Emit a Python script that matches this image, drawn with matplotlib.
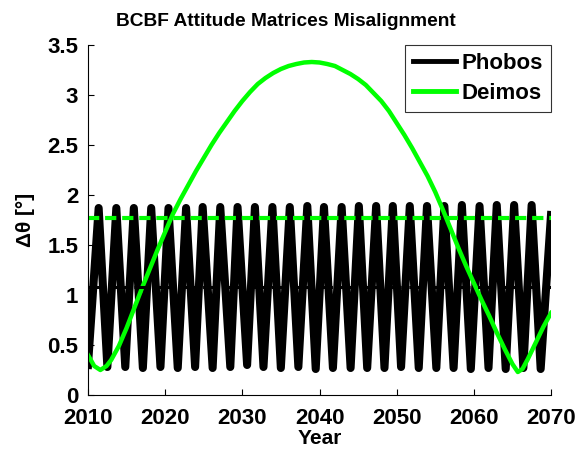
import matplotlib
matplotlib.use("Agg")
import matplotlib.pyplot as plt

plt.rcParams['font.family'] = ['Liberation Sans', 'DejaVu Sans']
plt.rcParams['font.weight'] = 'bold'

# Phobos: turning points of the fast oscillation
phobos_trough_years = [2010.0, 2012.51, 2014.83, 2017.11, 2019.39, 2021.63, 2023.88,
                       2026.15, 2028.44, 2030.62, 2032.74, 2034.99, 2037.26, 2039.51,
                       2041.74, 2044.03, 2046.18, 2048.42, 2050.57, 2052.86, 2055.14,
                       2057.38, 2059.61, 2061.90, 2064.13, 2066.42, 2068.66]
phobos_trough_vals = [0.30, 0.28, 0.28, 0.27, 0.28, 0.27, 0.28,
                      0.27, 0.28, 0.30, 0.28, 0.27, 0.28, 0.26,
                      0.27, 0.27, 0.27, 0.27, 0.28, 0.27, 0.27,
                      0.27, 0.26, 0.27, 0.26, 0.27, 0.26]
phobos_peak_years = [2011.38, 2013.67, 2015.94, 2018.19, 2020.43, 2022.71, 2024.86,
                     2027.14, 2029.38, 2031.63, 2033.90, 2036.15, 2038.42, 2040.58,
                     2042.87, 2045.10, 2047.34, 2049.50, 2051.70, 2053.93, 2056.18,
                     2058.45, 2060.74, 2062.97, 2065.22, 2067.49]
phobos_peak_vals = [1.87, 1.87, 1.87, 1.87, 1.87, 1.87, 1.88,
                    1.88, 1.88, 1.88, 1.88, 1.88, 1.89, 1.88,
                    1.88, 1.89, 1.89, 1.89, 1.89, 1.89, 1.89,
                    1.90, 1.89, 1.90, 1.90, 1.90]
phobos_end = (2070.0, 1.80)
phobos_mean = 1.08

# Deimos: slow curve
deimos_years = [2010.0, 2010.8, 2011.6, 2012.4, 2013, 2014, 2015, 2016, 2017, 2018,
                2019, 2020, 2021, 2022, 2023, 2024, 2025, 2026, 2027, 2028,
                2029, 2030, 2031, 2032, 2033, 2034, 2035, 2036, 2037, 2038,
                2039, 2040, 2041, 2042, 2043, 2044, 2045, 2046, 2047, 2048,
                2049, 2050, 2051, 2052, 2053, 2054, 2055, 2056, 2057, 2058,
                2059, 2060, 2061, 2062, 2063, 2064, 2065, 2065.7, 2066.3, 2067,
                2068, 2069, 2070]
deimos_vals = [0.40, 0.29, 0.25, 0.29, 0.35, 0.49, 0.67, 0.87, 1.07, 1.26,
               1.45, 1.63, 1.81, 1.96, 2.10, 2.24, 2.37, 2.50, 2.62, 2.73,
               2.84, 2.94, 3.03, 3.11, 3.17, 3.22, 3.26, 3.29, 3.31, 3.325,
               3.33, 3.325, 3.31, 3.29, 3.25, 3.21, 3.16, 3.10, 3.02, 2.94,
               2.84, 2.72, 2.60, 2.47, 2.33, 2.19, 2.03, 1.85, 1.66, 1.47,
               1.29, 1.12, 0.95, 0.79, 0.62, 0.46, 0.31, 0.23, 0.26, 0.36,
               0.52, 0.68, 0.82]
deimos_mean = 1.77

phobos_x = []
phobos_y = []
for i in range(len(phobos_trough_years)):
    phobos_x.append(phobos_trough_years[i])
    phobos_y.append(phobos_trough_vals[i])
    if i < len(phobos_peak_years):
        phobos_x.append(phobos_peak_years[i])
        phobos_y.append(phobos_peak_vals[i])
phobos_x.append(phobos_end[0])
phobos_y.append(phobos_end[1])

fig = plt.figure(figsize=(5.82, 4.5), dpi=100)
ax = fig.add_axes([88 / 582, 55 / 450, 463 / 582, 350 / 450])

ax.plot(phobos_x, phobos_y, color='black', linewidth=5.8, solid_joinstyle='round', label='Phobos')
ax.plot(deimos_years, deimos_vals, color='#00ff00', linewidth=3.2, label='Deimos')
ax.plot([2010, 2070], [phobos_mean, phobos_mean], color='black', linewidth=2.2, dashes=(5, 2.5))
ax.plot([2010, 2070], [deimos_mean, deimos_mean], color='#00ff00', linewidth=3, dashes=(2.7, 1.4))

ax.set_xlim(2010, 2070)
ax.set_ylim(0, 3.5)
ax.set_xticks([2010, 2020, 2030, 2040, 2050, 2060, 2070])
ax.set_yticks([0, 0.5, 1, 1.5, 2, 2.5, 3, 3.5])
ax.set_yticklabels(['0', '0.5', '1', '1.5', '2', '2.5', '3', '3.5'])
ax.tick_params(direction='in', length=4, labelsize=16)
ax.tick_params(axis='x', pad=9)
ax.tick_params(axis='y', pad=7)
ax.spines['top'].set_visible(False)
ax.spines['right'].set_visible(False)

ax.set_xlabel('Year', fontsize=15, fontweight='bold', labelpad=0)
ax.set_ylabel('Δθ [°]', fontsize=15, fontweight='bold', labelpad=9)
ax.set_title('BCBF Attitude Matrices Misalignment', fontsize=13.8, fontweight='bold',
             x=0.428, pad=14)

leg = ax.legend(loc='upper right', fontsize=16, frameon=True, fancybox=False,
                borderaxespad=0, handlelength=1.95, handletextpad=0.25,
                borderpad=0.35, labelspacing=0.42)
leg.get_frame().set_edgecolor('black')
leg.get_frame().set_linewidth(0.8)
for line in leg.get_lines():
    line.set_linewidth(3.5)

fig.savefig('out.png', dpi=100)
